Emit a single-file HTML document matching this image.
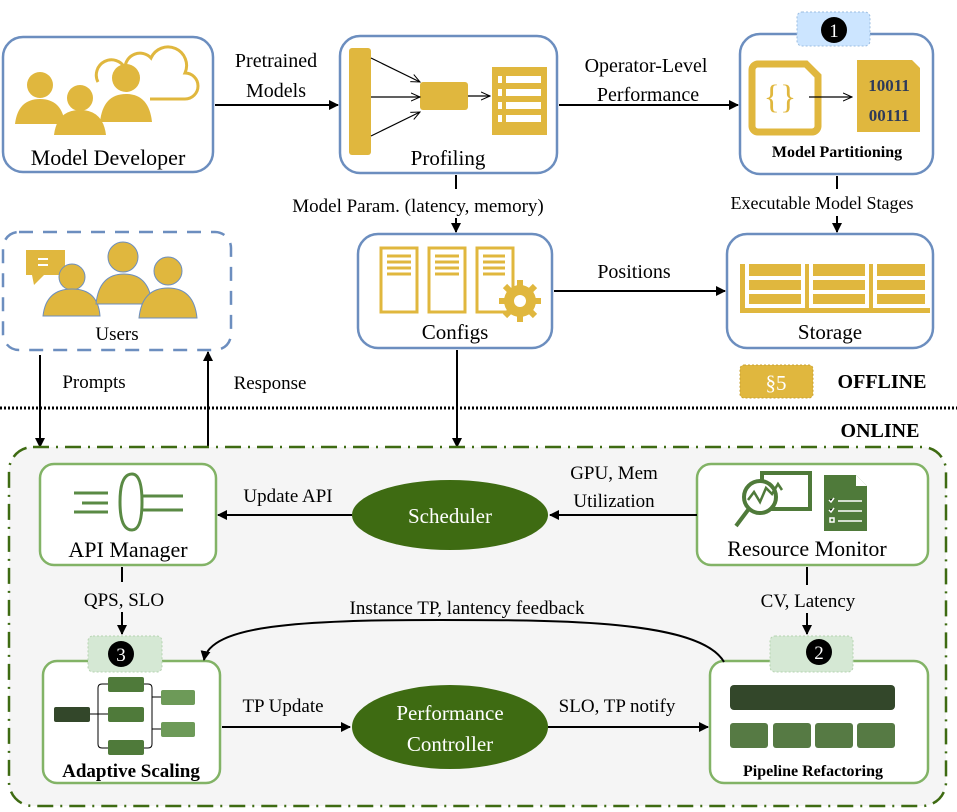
<!DOCTYPE html>
<html><head><meta charset="utf-8"><style>
html,body{margin:0;padding:0;background:#fff;font-family:"Liberation Serif",serif;}
svg{display:block;}
svg text{font-family:"Liberation Serif",serif;}
</style></head><body>
<svg width="957" height="812" viewBox="0 0 957 812" xmlns="http://www.w3.org/2000/svg" font-family="Liberation Serif, serif">
<defs>
<marker id="ah" markerWidth="10" markerHeight="10" refX="9" refY="5" orient="auto" markerUnits="userSpaceOnUse"><path d="M0,0 L10,5 L0,10 Z" fill="#000"/></marker>
<marker id="ao" markerWidth="10" markerHeight="10" refX="9" refY="5" orient="auto" markerUnits="userSpaceOnUse"><path d="M0,1 L9,5 L0,9" fill="none" stroke="#000" stroke-width="1"/></marker>
</defs>
<g fill="#fff" stroke="#6c8ebf" stroke-width="2.5">
<rect x="3" y="37" width="210" height="135" rx="20"/>
<rect x="340" y="36" width="217" height="137" rx="20"/>
<rect x="740" y="34" width="193" height="140" rx="20"/>
<rect x="358" y="234" width="194" height="114" rx="20"/>
<rect x="727" y="234" width="206" height="114" rx="20"/>
<rect x="3" y="232" width="228" height="118" rx="16" stroke-dasharray="14,10"/>
</g>
<rect x="797" y="12" width="73" height="34" rx="5" fill="#cce5ff" stroke="#9bbde0" stroke-dasharray="2,2"/>
<circle cx="834" cy="30" r="13" fill="#000"/><text x="834" y="37" font-size="19" fill="#fff" text-anchor="middle" font-family="Liberation Sans, sans-serif">1</text>
<g fill="#e0b73e">
<circle cx="40" cy="85" r="13"/><path d="M15,124 q3,-25 25,-25 q22,0 25,25z"/>
<circle cx="80" cy="98" r="13"/><path d="M54,135 q3,-25 26,-25 q23,0 26,25z"/>
<circle cx="126" cy="78" r="14"/><path d="M100,122 q3,-28 26,-28 q23,0 26,28z"/>
</g>
<path d="M150,99 h35 a13,13 0 0,0 0,-26 a18,18 0 0,0 -34,-15 a15,15 0 0,0 -26,10 a14,14 0 0,0 -27,14" fill="none" stroke="#e0b73e" stroke-width="3"/>
<text x="108" y="165" font-size="22" text-anchor="middle">Model Developer</text>
<rect x="349" y="48" width="22" height="107" rx="3" fill="#e0b73e"/>
<rect x="420" y="82" width="48" height="28" rx="3" fill="#e0b73e"/>
<g stroke="#000" stroke-width="1.2" marker-end="url(#ao)"><line x1="371" y1="58" x2="420" y2="82"/><line x1="371" y1="97" x2="420" y2="97"/><line x1="371" y1="136" x2="420" y2="112"/><line x1="468" y1="96" x2="490" y2="96"/></g>
<rect x="492" y="67" width="55" height="68" fill="#e0b73e"/>
<g fill="#fff"><rect x="498" y="76" width="4" height="7"/><rect x="506" y="76" width="35" height="7"/><rect x="498" y="89" width="4" height="7"/><rect x="506" y="89" width="35" height="7"/><rect x="498" y="102" width="4" height="7"/><rect x="506" y="102" width="35" height="7"/><rect x="498" y="115" width="4" height="7"/><rect x="506" y="115" width="35" height="7"/></g>
<text x="448" y="165" font-size="21" text-anchor="middle">Profiling</text>
<path d="M758,64 h48 l12,12 v50 a6,6 0 0,1 -6,6 h-54 a6,6 0 0,1 -6,-6 v-56 a6,6 0 0,1 6,-6z" fill="none" stroke="#e0b73e" stroke-width="7"/>
<text x="780" y="108" font-size="34" fill="#e0b73e" text-anchor="middle" font-family="Liberation Sans, sans-serif">{}</text>
<line x1="809" y1="97" x2="852" y2="97" stroke="#000" stroke-width="1.2" marker-end="url(#ao)"/>
<path d="M857,60 h55 l8,8 v64 h-63z" fill="#e0b73e"/>
<text x="889" y="91" font-size="17" font-weight="bold" fill="#2d3a5a" text-anchor="middle">10011</text>
<text x="889" y="121" font-size="17" font-weight="bold" fill="#2d3a5a" text-anchor="middle">00111</text>
<text x="837" y="157" font-size="16" font-weight="bold" text-anchor="middle">Model Partitioning</text>
<g fill="#fff" stroke="#e0b73e" stroke-width="3"><rect x="381" y="248" width="36" height="64"/><rect x="429" y="248" width="36" height="64"/><rect x="477" y="248" width="36" height="64"/></g>
<g stroke="#e0b73e" stroke-width="3"><path d="M387,256h24M387,262h24M387,268h24M387,274h24M435,256h24M435,262h24M435,268h24M435,274h24M483,256h22M483,262h22M483,268h22M483,274h22"/></g>
<circle cx="520" cy="301" r="16" fill="#e0b73e"/>
<g stroke="#e0b73e" stroke-width="6"><line x1="520" y1="280" x2="520" y2="322"/><line x1="499" y1="301" x2="541" y2="301"/><line x1="505" y1="286" x2="535" y2="316"/><line x1="535" y1="286" x2="505" y2="316"/></g>
<circle cx="520" cy="301" r="6" fill="#fff"/>
<text x="455" y="339" font-size="21" text-anchor="middle">Configs</text>
<g fill="#e0b73e"><rect x="740" y="264" width="190" height="49"/></g>
<g fill="#fff"><rect x="745" y="264" width="4" height="44"/><rect x="801" y="264" width="4" height="44"/><rect x="809" y="264" width="4" height="44"/><rect x="865" y="264" width="4" height="44"/><rect x="873" y="264" width="4" height="44"/>
<rect x="749" y="276" width="52" height="4"/><rect x="749" y="290" width="52" height="4"/><rect x="813" y="276" width="52" height="4"/><rect x="813" y="290" width="52" height="4"/><rect x="877" y="276" width="48" height="4"/><rect x="877" y="290" width="48" height="4"/><rect x="925" y="264" width="5" height="44"/><rect x="749" y="304" width="52" height="4"/><rect x="813" y="304" width="52" height="4"/><rect x="877" y="304" width="48" height="4"/></g>
<text x="830" y="339" font-size="21" text-anchor="middle">Storage</text>
<rect x="26" y="250" width="39" height="25" fill="#e0b73e"/><path d="M32,275 l12,0 l-10,10z" fill="#e0b73e"/>
<path d="M38,259h10M38,265h10" stroke="#fff" stroke-width="2"/>
<g fill="#e0b73e" stroke="#6c8ebf" stroke-width="1"><circle cx="72" cy="277" r="13"/><path d="M43,316 q3,-27 29,-27 q26,0 28,27z"/>
<circle cx="123" cy="257" r="15"/><path d="M96,304 q3,-30 28,-30 q25,0 28,30z"/>
<circle cx="168" cy="271" r="14"/><path d="M139,318 q3,-30 29,-30 q26,0 29,30z"/></g>
<text x="117" y="340" font-size="19" text-anchor="middle">Users</text>
<g stroke="#000" stroke-width="2" fill="none">
<line x1="215" y1="105" x2="338" y2="105" marker-end="url(#ah)"/>
<line x1="559" y1="105" x2="738" y2="105" marker-end="url(#ah)"/>
<line x1="456" y1="175" x2="456" y2="189"/>
<line x1="456" y1="218" x2="456" y2="232" marker-end="url(#ah)"/>
<line x1="837" y1="176" x2="837" y2="189"/>
<line x1="837" y1="216" x2="837" y2="232" marker-end="url(#ah)"/>
<line x1="554" y1="291" x2="725" y2="291" marker-end="url(#ah)"/>
<line x1="40" y1="355" x2="40" y2="447" marker-end="url(#ah)"/>
<line x1="208" y1="447" x2="208" y2="352" marker-end="url(#ah)"/>
<line x1="457" y1="350" x2="457" y2="447" marker-end="url(#ah)"/>
</g>
<g font-size="20" text-anchor="middle">
<text x="276" y="67">Pretrained</text><text x="276" y="97">Models</text>
<text x="646" y="72">Operator-Level</text><text x="648" y="101">Performance</text>
<text x="418" y="212" font-size="19">Model Param. (latency, memory)</text>
<text x="822" y="209" font-size="18">Executable Model Stages</text>
<text x="634" y="278">Positions</text>
<text x="94" y="388" font-size="19">Prompts</text>
<text x="270" y="389" font-size="19">Response</text>
</g>
<rect x="740" y="365" width="73" height="33" rx="4" fill="#e0b73e" stroke="#c9a233" stroke-dasharray="2,2"/>
<text x="776" y="390" font-size="21" fill="#fff" text-anchor="middle">§5</text>
<text x="882" y="388" font-size="20" font-weight="bold" text-anchor="middle">OFFLINE</text>
<line x1="0" y1="408" x2="957" y2="408" stroke="#000" stroke-width="3" stroke-dasharray="2,2"/>
<text x="880" y="437" font-size="20" font-weight="bold" text-anchor="middle">ONLINE</text>
<rect x="9" y="447" width="937" height="359" rx="24" fill="#f5f5f5" stroke="#3e6b12" stroke-width="2.5" stroke-dasharray="16,7,2,7"/>
<g fill="#fff" stroke="#82b366" stroke-width="2.5">
<rect x="40" y="464" width="176" height="101" rx="14"/>
<rect x="697" y="464" width="231" height="101" rx="14"/>
<rect x="43" y="661" width="177" height="122" rx="14"/>
<rect x="710" y="661" width="218" height="122" rx="14"/>
</g>
<rect x="88" y="636" width="74" height="36" rx="5" fill="#d5e8d4" stroke="#b5d3b0" stroke-dasharray="2,2"/>
<circle cx="121" cy="654" r="13" fill="#000"/><text x="121" y="661" font-size="19" fill="#fff" text-anchor="middle" font-family="Liberation Sans, sans-serif">3</text>
<rect x="770" y="636" width="83" height="36" rx="5" fill="#d5e8d4" stroke="#b5d3b0" stroke-dasharray="2,2"/>
<circle cx="819" cy="652" r="13" fill="#000"/><text x="819" y="659" font-size="19" fill="#fff" text-anchor="middle" font-family="Liberation Sans, sans-serif">2</text>
<ellipse cx="450" cy="515" rx="98" ry="35" fill="#3e6b12"/>
<text x="450" y="523" font-size="21" fill="#fff" text-anchor="middle">Scheduler</text>
<ellipse cx="450" cy="727" rx="98" ry="42" fill="#3e6b12"/>
<text x="450" y="720" font-size="21" fill="#fff" text-anchor="middle">Performance</text>
<text x="450" y="751" font-size="21" fill="#fff" text-anchor="middle">Controller</text>
<g stroke="#5a8a44" stroke-width="3" fill="none">
<path d="M74,493h34M82,503h26M74,512h34M143,496h40M143,510h40"/>
<path d="M132,474 q-12,0 -12,28 q0,28 12,28"/><path d="M132,474 q10,0 10,28 q0,28 -10,28"/>
</g>
<text x="128" y="557" font-size="22" text-anchor="middle">API Manager</text>
<rect x="762" y="473" width="48" height="36" fill="none" stroke="#4f7a3a" stroke-width="4"/>
<circle cx="760" cy="497" r="16" fill="#fff" stroke="#4f7a3a" stroke-width="4"/>
<path d="M748,500 l6,-8 l6,10 l6,-14 l6,6 l6,-10 l4,6" fill="none" stroke="#4f7a3a" stroke-width="2.5"/>
<line x1="748" y1="510" x2="736" y2="526" stroke="#4f7a3a" stroke-width="4"/>
<path d="M824,475 h32 l11,11 v45 h-43z" fill="#4f7a3a"/>
<path d="M856,475 l11,11 h-11z" fill="#fff"/>
<g stroke="#fff" stroke-width="1.5"><path d="M838,501h24M838,511h24M838,521h24"/><rect x="830" y="518" width="4" height="4" fill="none"/><path d="M829,500 l2,2 l3,-4M829,510 l2,2 l3,-4"/></g>
<text x="807" y="556" font-size="22" text-anchor="middle">Resource Monitor</text>
<rect x="54" y="707" width="36" height="15" rx="2" fill="#33472a"/>
<g fill="#4f7a3a"><rect x="108" y="677" width="36" height="15" rx="2"/><rect x="108" y="707" width="36" height="15" rx="2"/><rect x="108" y="740" width="36" height="15" rx="2"/></g>
<g fill="#6d9a58"><rect x="161" y="690" width="34" height="15" rx="2"/><rect x="161" y="722" width="34" height="15" rx="2"/></g>
<g stroke="#000" stroke-width="1" fill="none"><path d="M90,714h10M108,684 h-6 q-4,0 -4,4 v56 q0,4 4,4 h6M98,714h10M144,684 h4 q4,0 4,4 v56 q0,4 -4,4 h-4M152,697h9M152,729h9"/></g>
<text x="131" y="777" font-size="19" font-weight="bold" text-anchor="middle">Adaptive Scaling</text>
<rect x="730" y="685" width="165" height="25" rx="4" fill="#33472a"/>
<g fill="#567a44"><rect x="730" y="723" width="38" height="25" rx="3"/><rect x="773" y="723" width="38" height="25" rx="3"/><rect x="815" y="723" width="38" height="25" rx="3"/><rect x="857" y="723" width="38" height="25" rx="3"/></g>
<text x="813" y="776" font-size="16" font-weight="bold" text-anchor="middle">Pipeline Refactoring</text>
<g stroke="#000" stroke-width="2" fill="none">
<line x1="352" y1="515" x2="218" y2="515" marker-end="url(#ah)"/>
<line x1="697" y1="515" x2="550" y2="515" marker-end="url(#ah)"/>
<line x1="122" y1="567" x2="122" y2="582"/>
<line x1="122" y1="612" x2="122" y2="634" marker-end="url(#ah)"/>
<line x1="807" y1="567" x2="807" y2="585"/>
<line x1="807" y1="613" x2="807" y2="634" marker-end="url(#ah)"/>
<path d="M724,662 C700,620 560,620 440,620 C300,620 210,625 204,660" marker-end="url(#ah)"/>
<line x1="222" y1="727" x2="350" y2="727" marker-end="url(#ah)"/>
<line x1="548" y1="727" x2="708" y2="727" marker-end="url(#ah)"/>
</g>
<g font-size="19" text-anchor="middle">
<text x="288" y="502">Update API</text>
<text x="614" y="479">GPU, Mem</text><text x="614" y="507">Utilization</text>
<text x="124" y="606">QPS, SLO</text>
<text x="808" y="607">CV, Latency</text>
<text x="467" y="614">Instance TP, lantency feedback</text>
<text x="283" y="712">TP Update</text>
<text x="617" y="712">SLO, TP notify</text>
</g>
</svg>
</body></html>
